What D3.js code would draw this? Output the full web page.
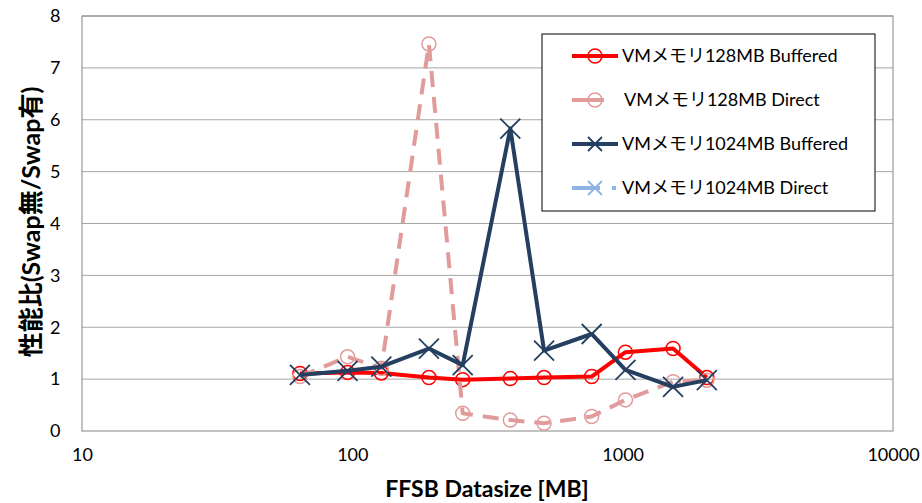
<!DOCTYPE html>
<html>
<head>
<meta charset="utf-8">
<script src="https://cdn.jsdelivr.net/npm/d3@7"></script>
<style>
  body { margin: 0; background: #fff; }
  svg { font-family: Lato, "Noto Sans CJK JP", sans-serif; }
</style>
</head>
<body>
<svg width="922" height="503"></svg>
<script>
const svg = d3.select('svg')

// data
const sizes = [64, 96, 128, 192, 256, 384, 512, 768, 1024, 1536, 2048]
const buffered128 = [1.11, 1.13, 1.12, 1.03, 0.99, 1.01, 1.03, 1.05, 1.52, 1.59, 1.03]
const direct128 = [1.05, 1.43, 1.21, 7.46, 0.34, 0.21, 0.15, 0.28, 0.6, 0.95, 0.98]
const buffered1024 = [1.08, 1.16, 1.24, 1.59, 1.27, 5.83, 1.55, 1.87, 1.18, 0.85, 0.98]
const direct1024 = []
const xTicks = [10, 100, 1000, 10000]
const yTicks = [0, 1, 2, 3, 4, 5, 6, 7, 8]

const series = [
  { name: 'VMメモリ128MB Buffered', values: buffered128, color: '#ff0000', dash: null, marker: 'circle' },
  { name: 'VMメモリ128MB Direct', values: direct128, color: '#e09b9a', dash: '16,10', marker: 'circle' },
  { name: 'VMメモリ1024MB Buffered', values: buffered1024, color: '#243f60', dash: null, marker: 'x' },
  { name: 'VMメモリ1024MB Direct', values: direct1024, color: '#8eb4e3', dash: '14,8,3,8', marker: 'x' }
]

const plot = { left: 82, right: 893, top: 16, bottom: 431 }

const x = d3.scaleLog().domain([10, 10000]).range([plot.left, plot.right])
const y = d3.scaleLinear().domain([0, 8]).range([plot.bottom, plot.top])

// gridlines
svg.append('g')
   .selectAll('line')
   .data(yTicks.slice(1))
   .enter().append('line')
   .attr('x1', plot.left)
   .attr('x2', plot.right)
   .attr('y1', d => y(d))
   .attr('y2', d => y(d))
   .attr('stroke', '#a6a6a6')
   .attr('stroke-width', 1)

// plot border
svg.append('rect')
   .attr('x', plot.left)
   .attr('y', plot.top)
   .attr('width', plot.right - plot.left)
   .attr('height', plot.bottom - plot.top)
   .attr('fill', 'none')
   .attr('stroke', '#868686')
   .attr('stroke-width', 1)

// axes
const yAxis = svg.append('g')
                 .attr('transform', 'translate(' + plot.left + ',0)')
                 .call(d3.axisLeft(y).tickValues(yTicks).tickSize(0).tickPadding(24))
yAxis.select('.domain').remove()
yAxis.selectAll('text')
     .attr('font-size', 18)
     .attr('font-family', 'Lato, sans-serif')
     .attr('fill', '#000')
     .attr('text-anchor', 'start')
     .attr('dx', '-0.45em')

const xAxis = svg.append('g')
                 .attr('transform', 'translate(0,' + plot.bottom + ')')
                 .call(d3.axisBottom(x).tickValues(xTicks).tickFormat(d3.format('d')).tickSize(0).tickPadding(17))
xAxis.select('.domain').remove()
xAxis.selectAll('text')
     .attr('font-size', 18)
     .attr('font-family', 'Lato, sans-serif')
     .attr('fill', '#000')

// axis titles
svg.append('text')
   .attr('x', 487)
   .attr('y', 497)
   .attr('text-anchor', 'middle')
   .attr('font-size', 23)
   .attr('font-weight', 'bold')
   .text('FFSB Datasize [MB]')

svg.append('text')
   .attr('transform', 'translate(40,222) rotate(-90)')
   .attr('text-anchor', 'middle')
   .attr('font-size', 25)
   .attr('font-weight', 'bold')
   .text('性能比(Swap無/Swap有)')

const line = d3.line()
               .x((d, i) => x(sizes[i]))
               .y(d => y(d))

function drawMarker(g, type, color) {
  if (type === 'circle') {
    g.append('circle')
     .attr('r', 7)
     .attr('fill', 'none')
     .attr('stroke', color)
     .attr('stroke-width', 1.5)
  } else {
    g.append('path')
     .attr('d', 'M-10,-10L10,10M-10,10L10,-10')
     .attr('stroke', color)
     .attr('stroke-width', 1.8)
     .attr('fill', 'none')
  }
}

series.forEach(s => {
  svg.append('path')
     .datum(s.values)
     .attr('d', line)
     .attr('fill', 'none')
     .attr('stroke', s.color)
     .attr('stroke-width', 4)
     .attr('stroke-linejoin', 'round')
     .attr('stroke-dasharray', s.dash)

  svg.append('g')
     .selectAll('g')
     .data(s.values)
     .enter().append('g')
     .attr('transform', (d, i) => 'translate(' + x(sizes[i]) + ',' + y(d) + ')')
     .each(function () { drawMarker(d3.select(this), s.marker, s.color) })
})

// legend
const legend = svg.append('g')
legend.append('rect')
      .attr('x', 542)
      .attr('y', 34)
      .attr('width', 333)
      .attr('height', 177)
      .attr('fill', '#fff')
      .attr('stroke', '#000')
      .attr('stroke-width', 1)

const legendY = d3.scalePoint().domain(series.map(s => s.name)).range([56, 188])

series.forEach(s => {
  const row = legend.append('g').attr('transform', 'translate(0,' + legendY(s.name) + ')')
  row.append('line')
     .attr('x1', 572)
     .attr('x2', s.dash && s.marker === 'circle' ? 604 : 618)
     .attr('stroke', s.color)
     .attr('stroke-width', 4)
     .attr('stroke-dasharray', s.marker === 'x' && s.dash ? '28,12,4,8' : null)
  const m = row.append('g').attr('transform', 'translate(595,0)')
  drawMarker(m, s.marker, s.color)
  if (s.marker === 'x') m.select('path').attr('d', 'M-7,-7L7,7M-7,7L7,-7')
  row.append('text')
     .attr('x', s.dash && s.marker === 'circle' ? 624 : 622)
     .attr('y', 6)
     .attr('font-size', 18)
     .text(s.name)
})
</script>
</body>
</html>
